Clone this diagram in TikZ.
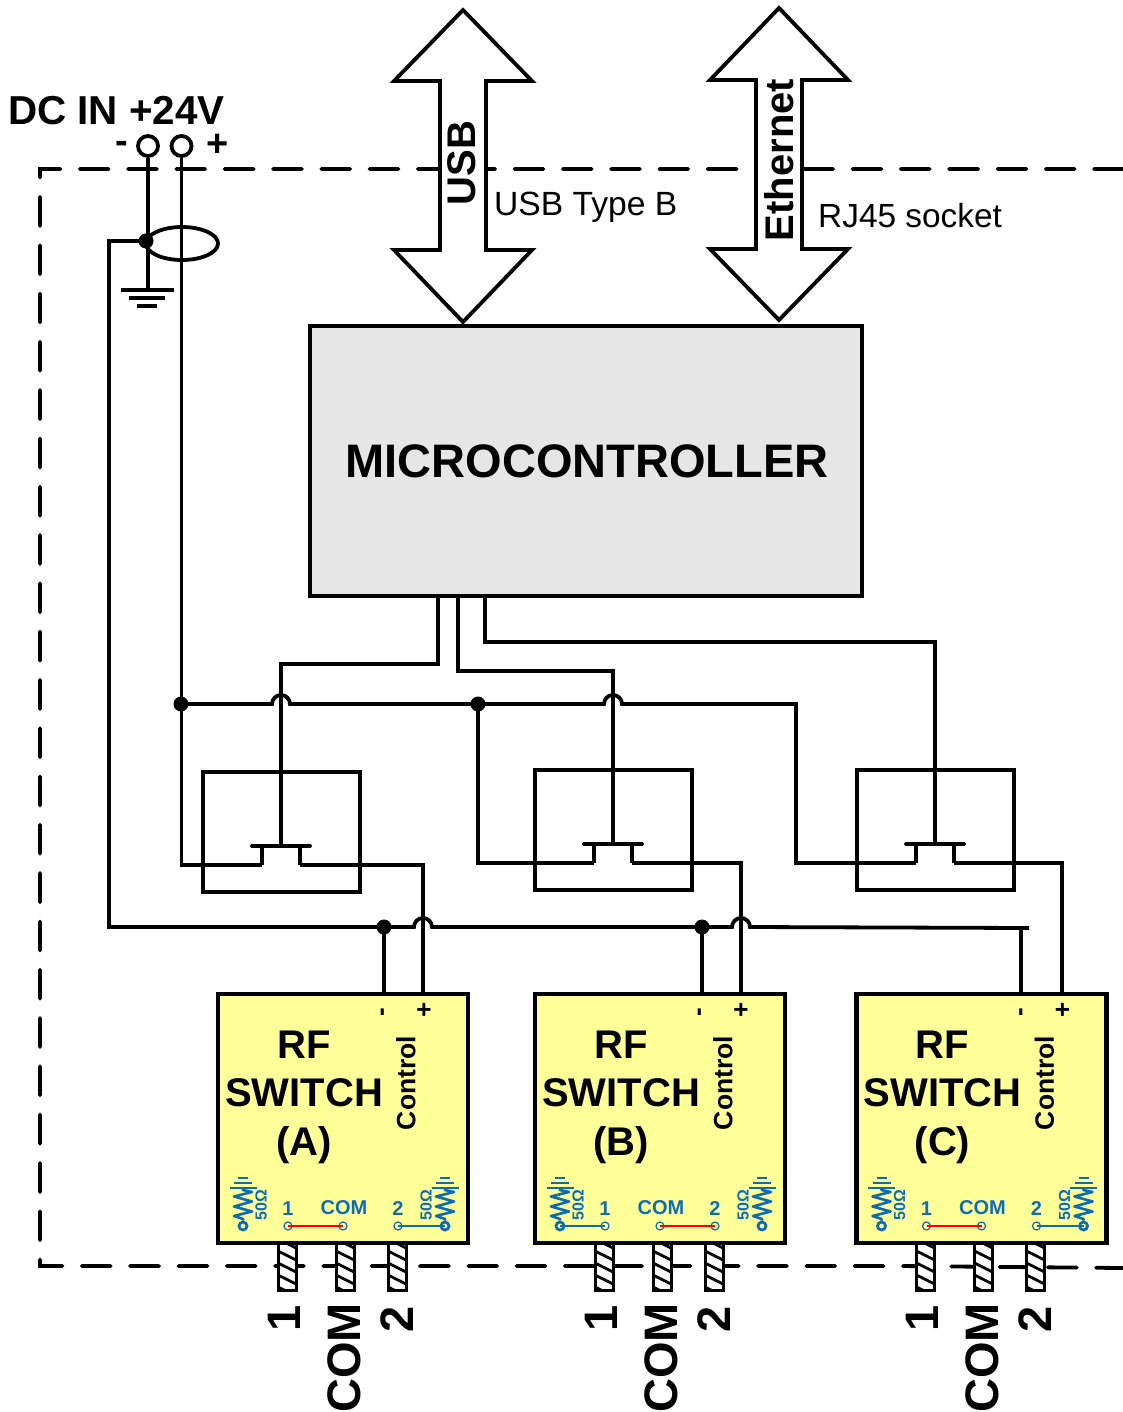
\documentclass[tikz,border=0pt]{standalone}
\usepackage{fontspec}
\setmainfont{Liberation Sans}
\usetikzlibrary{shapes.geometric,calc}
\definecolor{swblue}{HTML}{0F6CB4}
\definecolor{swyellow}{HTML}{FFFF99}
\definecolor{mcugray}{HTML}{E6E6E6}
\newcommand{\fsz}[1]{\fontsize{#1}{#1}\selectfont}
\tikzset{
  wire/.style={line width=3.8pt,line join=miter},
  busarrow/.style={line width=3.8pt,fill=white,line join=miter},
  junction/.style={circle,fill=black,inner sep=0pt,minimum size=15pt},
  terminal/.style={circle,draw,line width=3.8pt,fill=white,inner sep=0pt,minimum size=20pt},
  boxlabel/.style={font=\bfseries\fsz{40},inner sep=0pt},
  outerlabel/.style={font=\bfseries\fsz{47},inner sep=0pt,rotate=90},
  bwire/.style={draw=swblue,line width=2.6pt},
  btext/.style={text=swblue,font=\bfseries\fsz{20},inner sep=0pt},
  port/.style={circle,draw=swblue,line width=1.2pt,inner sep=0pt,minimum size=8pt},
  pload/.style={circle,draw=swblue,line width=2.8pt,inner sep=0pt,minimum size=8pt},
  rfbox/.style={draw,line width=4.2pt,fill=swyellow,inner sep=0pt,outer sep=0pt,anchor=north west,minimum width=250pt,minimum height=249pt},
}
% terminated 50 ohm load: #1 name, #2 x, #3 label offset
\newcommand{\rload}[3]{
  \node[pload] (#1) at (#2,1226) {};
  \draw[bwire,line join=round] (#1.north) -- (#2,1219) -- (#2-9,1216) -- (#2+9,1211.5) -- (#2-9,1206.5) -- (#2+9,1201.5) -- (#2-9,1196.5) -- (#2+9,1192) -- (#2,1190) -- (#2,1188);
  \draw[bwire] (#2-13.5,1188) -- (#2+13.5,1188);
  \draw[bwire] (#2-9,1183) -- (#2+9,1183);
  \draw[bwire] (#2-5,1178) -- (#2+5,1178);
  \node[btext,font=\bfseries\fsz{16},rotate=90] at (#2+#3,1205) {50Ω};
}
% threaded pin: #1 x
\newcommand{\rfpin}[1]{
  \begin{scope}
    \clip (#1,1243) rectangle (#1+18,1290);
    \fill[white] (#1,1243) rectangle (#1+18,1290);
    \foreach \k in {0,...,4} \draw[line width=2.8pt] (#1-2,1238+\k*12) -- (#1+20,1249+\k*12);
  \end{scope}
  \draw[line width=3pt] (#1,1243) rectangle (#1+18,1290);
}
% RF switch: #1 name, #2 box left, #3 letter, #4 = 0 when port 1 is closed to COM, 1 when port 2 is
\newcommand{\rfblock}[4]{
  \begin{scope}[shift={(#2,0)}]
    \rfpin{60}\rfpin{118}\rfpin{170}
    \node[rfbox] (#1box) at (0,994) {};
    \node[boxlabel] at (86,1045) {RF};
    \node[boxlabel] at (86,1093) {SWITCH};
    \node[boxlabel] at (86,1145) {(#3)};
    \node[inner sep=0pt,font=\bfseries\fsz{26.5},rotate=90] at (188,1083) {Control};
    \node[inner sep=0pt,font=\bfseries\fsz{26},rotate=90] at (167,1012) {-};
    \node[inner sep=0pt,font=\bfseries\fsz{26},rotate=90] at (207,1010) {+};
    \rload{#1loadL}{25}{18}
    \rload{#1loadR}{227}{-19}
    \node[port] (#1p1) at (70,1226) {};
    \node[port] (#1pc) at (125,1226) {};
    \node[port] (#1p2) at (180,1226) {};
    \node[btext] at (70,1209) {1};
    \node[btext] at (126,1208) {COM};
    \node[btext] at (180,1209) {2};
    \ifnum#4=0
      \draw[red,line width=2.4pt] (#1p1.center) -- (#1pc.center);
      \draw[bwire] (#1p2.center) -- (#1loadR.center);
    \else
      \draw[red,line width=2.4pt] (#1pc.center) -- (#1p2.center);
      \draw[bwire] (#1p1.center) -- (#1loadL.center);
    \fi
    \node[outerlabel] at (66,1318) {1};
    \node[outerlabel] at (126,1358) {COM};
    \node[outerlabel] at (179,1319) {2};
  \end{scope}
}
% FET: #1 name, #2 gate x, #3 bar y
\newcommand{\fetblock}[3]{
  \begin{scope}[shift={(#2,#3)}]
    \draw[wire] (-78,-74) rectangle (79,46);
    \coordinate (#1g) at (0,0);
    \coordinate (#1s) at (-19,19);
    \coordinate (#1d) at (19,19);
    \draw[wire,line cap=round] (-29,0) -- (29,0);
    \draw[wire] (-19,0) -- (#1s);
    \draw[wire] (19,0) -- (#1d);
  \end{scope}
}
\begin{document}
\begin{tikzpicture}[x=1pt,y=-1pt]
\useasboundingbox (0,0) rectangle (1123,1412);
\fill[white] (0,0) rectangle (1123,1412);

% enclosure
\draw[line width=3.8pt,line cap=round,dash pattern=on 29pt off 19.3pt] (1123,169) -- (40,169) -- (40,1266) -- (900,1266) -- (1123,1268);

% bus arrows
\draw[busarrow] (463,10) -- (532,81) -- (486,81) -- (486,250) -- (532,250) -- (463,322) -- (394,250) -- (440,250) -- (440,81) -- (394,81) -- cycle;
\draw[busarrow] (779,8) -- (848,80) -- (802,80) -- (802,249) -- (848,249) -- (779,320) -- (710,249) -- (756,249) -- (756,80) -- (710,80) -- cycle;
\node[inner sep=0pt,font=\bfseries\fsz{40},rotate=90] (usb) at (462,163) {USB};
\node[inner sep=0pt,font=\bfseries\fsz{40},rotate=90] (eth) at (779,160) {Ethernet};
\node[inner sep=0pt,font=\fsz{33.6},anchor=west] (usbt) at (494,207) {USB Type B};
\node[inner sep=0pt,font=\fsz{33.4},anchor=west] (rjt) at (818,216) {RJ45 socket};

% microcontroller
\node[draw,line width=4.2pt,fill=mcugray,inner sep=0pt,outer sep=0pt,minimum width=552pt,minimum height=270pt,font=\bfseries\fsz{47}] (mcu) at (586,461) {\hspace{2pt}MICROCONTROLLER};

% power input
\node[inner sep=0pt,font=\bfseries\fsz{40.4},anchor=west] (dcin) at (8,111) {DC IN +24V};
\node[inner sep=0pt,font=\bfseries\fsz{38}] (mn) at (122,147) {-};
\node[inner sep=0pt,font=\bfseries\fsz{38}] (pl) at (218,145) {+};
\node[terminal] (tneg) at (148,146) {};
\node[terminal] (tpos) at (181.5,146) {};
\node[draw,ellipse,line width=3.8pt,inner sep=0pt,minimum width=72pt,minimum height=33pt] (choke) at (182,243.5) {};
\node[junction] (gndj) at (146,241) {};
\coordinate (gndtop) at (148,290);
\draw[wire] (tneg.south) -- (gndtop);
\draw[wire] ($(gndtop)+(-27,0)$) -- ($(gndtop)+(26,0)$);
\draw[wire] ($(gndtop)+(-19,8)$) -- ($(gndtop)+(17,8)$);
\draw[wire] ($(gndtop)+(-11,16)$) -- ($(gndtop)+(9,16)$);

% FETs and switches
\fetblock{fetA}{281}{846}
\fetblock{fetB}{613}{844}
\fetblock{fetC}{935}{844}
\rfblock{rfA}{218}{A}{0}
\rfblock{rfB}{535}{B}{1}
\rfblock{rfC}{856.5}{C}{0}

\coordinate (rfAn) at (384,994);\coordinate (rfAp) at (423,994);
\coordinate (rfBn) at (702,994);\coordinate (rfBp) at (741,994);
\coordinate (rfCn) at (1021,994);\coordinate (rfCp) at (1062,994);
\coordinate (mcuA) at (438,596);\coordinate (mcuB) at (458,596);\coordinate (mcuC) at (485,596);

% supply bus
\node[junction] (busL) at (181,704) {};
\node[junction] (busM) at (478,704) {};
\draw[wire] (tpos.south) |- (fetAs);
\draw[wire] (busL.center) -- (272,704) arc[start angle=180,end angle=360,radius=9] -- (604,704) arc[start angle=180,end angle=360,radius=9] -- (796,704) |- (fetCs);
\draw[wire] (busM.center) |- (fetBs);

% gates
\draw[wire] (mcuA) -- (438,664) -| (fetAg);
\draw[wire] (mcuB) -- (458,671) -| (fetBg);
\draw[wire] (mcuC) -- (485,642) -| (fetCg);

% drains
\draw[wire] (fetAd) -| (rfAp);
\draw[wire] (fetBd) -| (rfBp);
\draw[wire] (fetCd) -| (rfCp);

% return bus
\node[junction] (retA) at (384,927) {};
\node[junction] (retB) at (702,927) {};
\draw[wire] (gndj.center) -| (109,927) -- (414,927) arc[start angle=180,end angle=360,radius=9] -- (732,927) arc[start angle=180,end angle=360,radius=9] -- (1029,928);
\draw[wire] (retA.center) -- (rfAn);
\draw[wire] (retB.center) -- (rfBn);
\draw[wire] (1021,928) -- (rfCn);
\end{tikzpicture}
\end{document}
